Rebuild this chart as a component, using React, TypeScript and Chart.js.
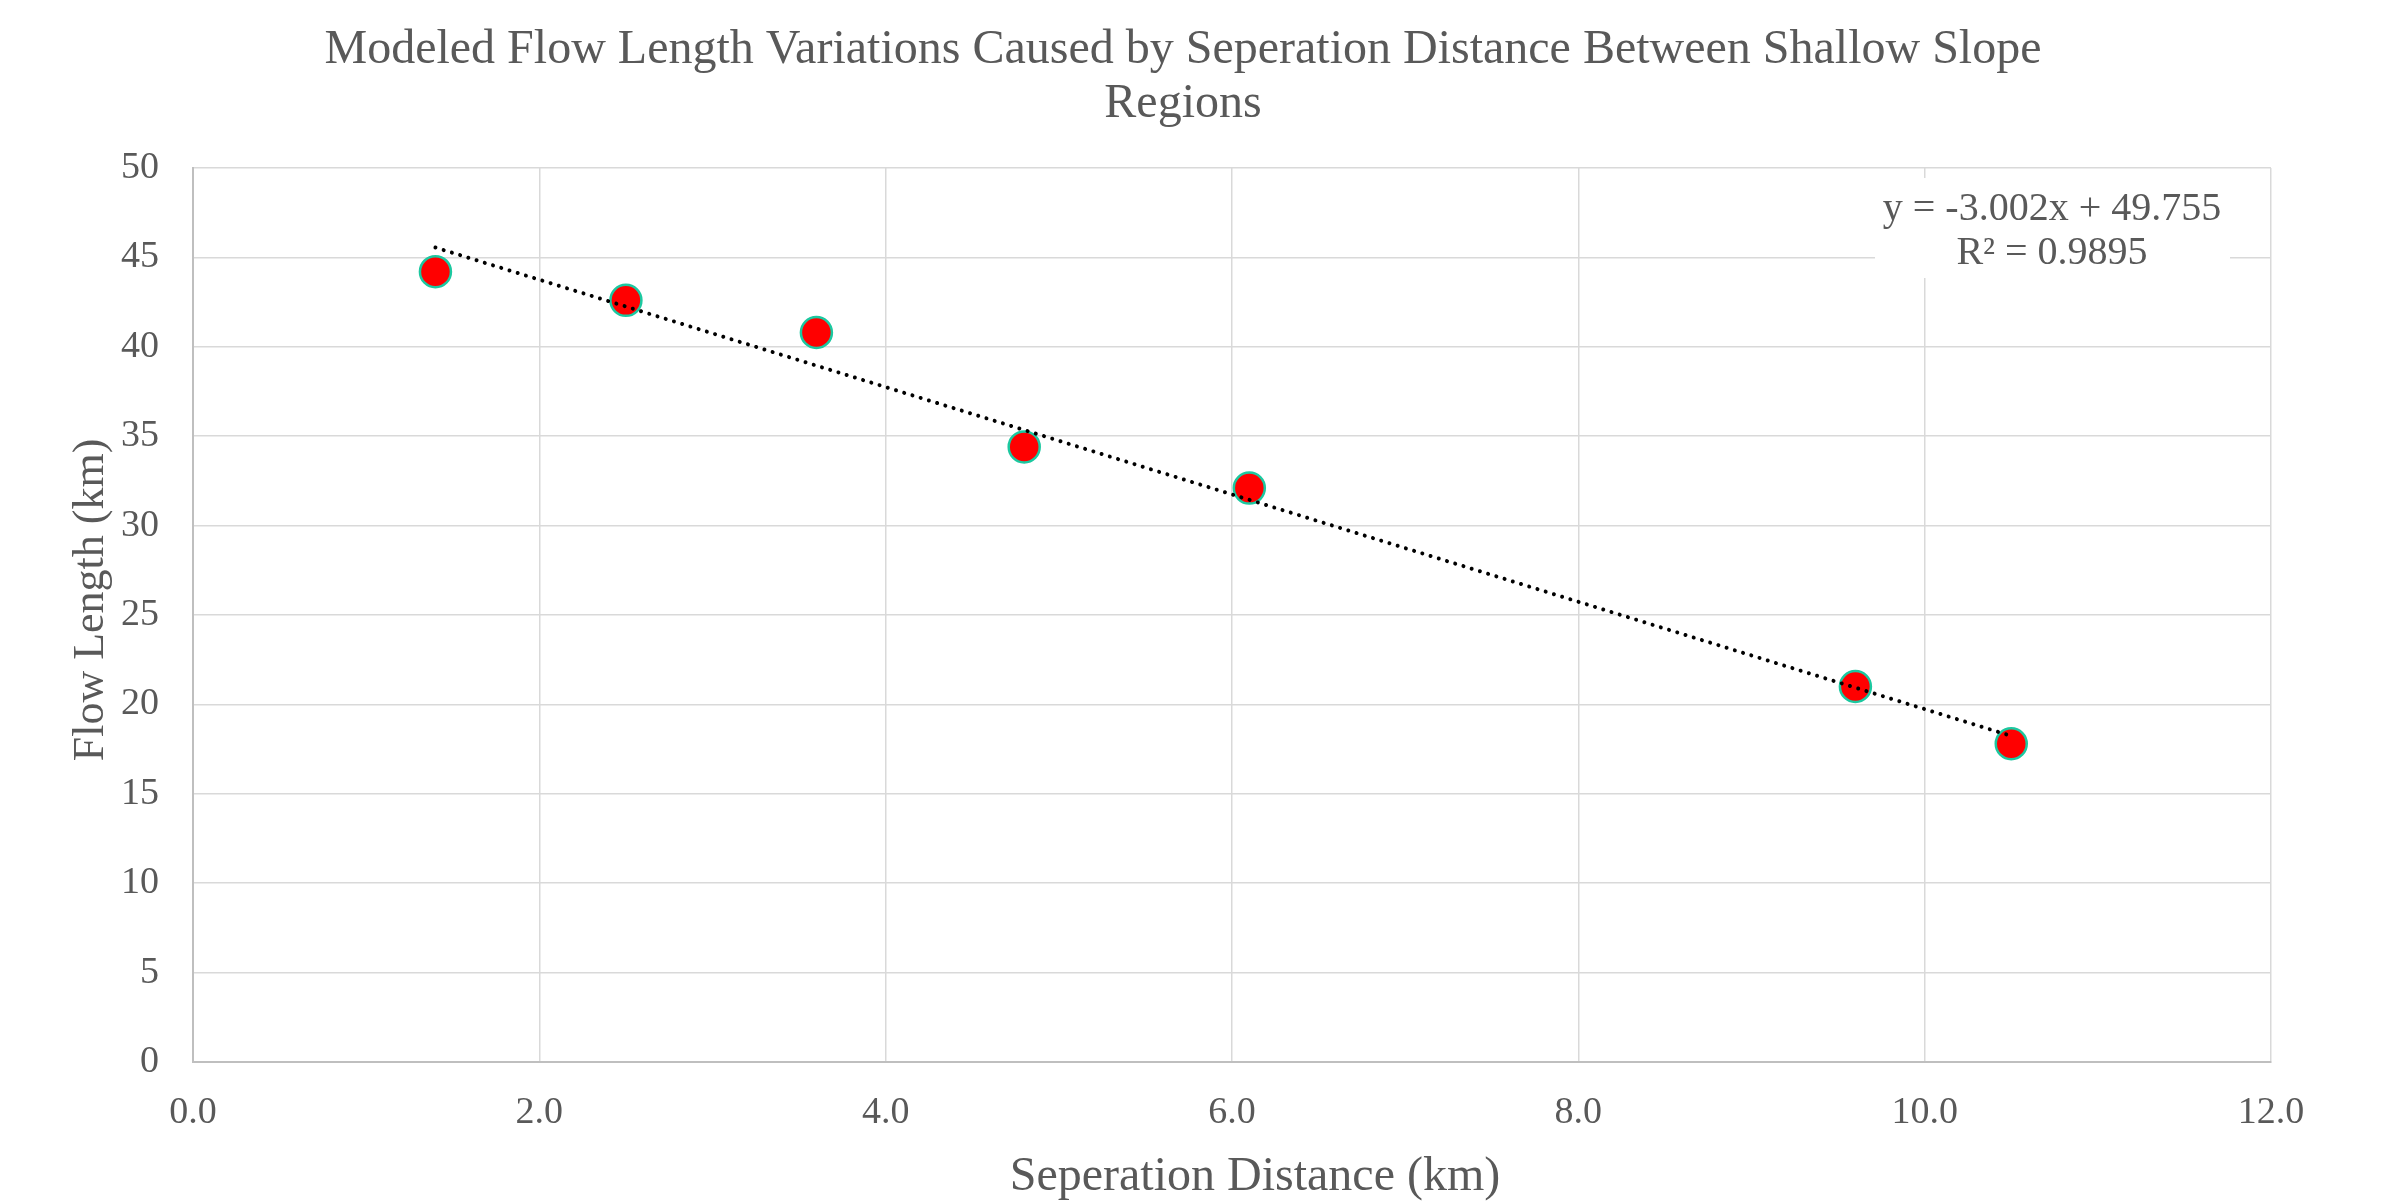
import React, { useEffect, useRef } from 'react';
import { Chart, registerables } from 'chart.js';

Chart.register(...registerables);

// ---- Data ----
const SEPARATION_KM = [1.4, 2.5, 3.6, 4.8, 6.1, 9.6, 10.5];
const FLOW_LENGTH_KM = [44.2, 42.6, 40.8, 34.4, 32.1, 21.0, 17.8];
const TREND_SLOPE = -3.002;
const TREND_INTERCEPT = 49.755;
const EQUATION_LINES = ['y = -3.002x + 49.755', 'R² = 0.9895'];
const TITLE_LINES = [
  'Modeled Flow Length Variations Caused by Seperation Distance Between Shallow Slope',
  'Regions',
];
const X_TITLE = 'Seperation Distance (km)';
const Y_TITLE = 'Flow Length (km)';
const X_MIN = 0;
const X_MAX = 12;
const X_STEP = 2;
const Y_MIN = 0;
const Y_MAX = 50;
const Y_STEP = 5;

const FONT = "'Liberation Serif', 'Times New Roman', serif";
const TEXT_COLOR = '#595959';

const textPlugin = {
  id: 'textLabels',
  afterDraw(chart: any) {
    const { ctx, chartArea } = chart;
    const right = chartArea.right;
    const top = chartArea.top;
    ctx.save();
    ctx.textAlign = 'center';
    ctx.textBaseline = 'middle';

    // chart title
    ctx.fillStyle = TEXT_COLOR;
    ctx.font = `48px ${FONT}`;
    ctx.fillText(TITLE_LINES[0], 1183, 50);
    ctx.fillText(TITLE_LINES[1], 1183, 104);

    // axis titles
    ctx.font = `48px ${FONT}`;
    ctx.fillText(X_TITLE, 1255, 1177);
    ctx.save();
    ctx.translate(91, 600);
    ctx.rotate(-Math.PI / 2);
    ctx.font = `44px ${FONT}`;
    ctx.fillText(Y_TITLE, 0, 0);
    ctx.restore();

    // trendline equation label
    ctx.fillStyle = '#FFFFFF';
    ctx.fillRect(right - 396, top + 10, 355, 100);
    ctx.fillStyle = TEXT_COLOR;
    ctx.font = `40px ${FONT}`;
    const cx = right - 219;
    ctx.fillText(EQUATION_LINES[0], cx, top + 41);
    ctx.fillText(EQUATION_LINES[1], cx, top + 85);
    ctx.restore();
  },
};

export default function App() {
  const canvasRef = useRef<HTMLCanvasElement | null>(null);

  useEffect(() => {
    document.body.style.margin = '0';
    const canvas = canvasRef.current;
    if (!canvas) return;

    const points = SEPARATION_KM.map((x, i) => ({ x, y: FLOW_LENGTH_KM[i] }));
    const xStart = Math.min(...SEPARATION_KM);
    const xEnd = Math.max(...SEPARATION_KM);
    const trend = [
      { x: xStart, y: TREND_SLOPE * xStart + TREND_INTERCEPT },
      { x: xEnd, y: TREND_SLOPE * xEnd + TREND_INTERCEPT },
    ];

    const chart = new Chart(canvas, {
      type: 'scatter',
      data: {
        datasets: [
          {
            type: 'line',
            label: 'Trend',
            data: trend,
            borderColor: '#000000',
            borderWidth: 4,
            borderDash: [0.01, 8.6],
            borderCapStyle: 'round',
            pointRadius: 0,
            fill: false,
            order: 0,
          } as any,
          {
            label: 'Flow Length',
            data: points,
            backgroundColor: '#FF0000',
            borderColor: '#1CC8A0',
            borderWidth: 2.5,
            pointRadius: 15.5,
            pointHoverRadius: 15.5,
            order: 1,
          },
        ],
      },
      options: {
        responsive: false,
        animation: false,
        layout: { padding: { left: 0, right: 117, top: 168, bottom: 0 } },
        plugins: {
          legend: { display: false },
          tooltip: { enabled: false },
          title: { display: false },
        },
        scales: {
          x: {
            type: 'linear',
            min: X_MIN,
            max: X_MAX,
            grid: { color: '#D9D9D9', lineWidth: 1.5, drawTicks: false },
            border: { color: '#BFBFBF', width: 2 },
            ticks: {
              stepSize: X_STEP,
              padding: 28,
              color: TEXT_COLOR,
              font: { family: FONT, size: 38 },
              callback: (v: any) => Number(v).toFixed(1),
            },
            title: { display: false },
            afterFit: (scale: any) => {
              scale.height = 142;
            },
          },
          y: {
            type: 'linear',
            min: Y_MIN,
            max: Y_MAX,
            grid: { color: '#D9D9D9', lineWidth: 1.5, drawTicks: false },
            border: { color: '#BFBFBF', width: 2 },
            ticks: {
              stepSize: Y_STEP,
              padding: 34,
              color: TEXT_COLOR,
              font: { family: FONT, size: 38 },
            },
            title: { display: false },
            afterFit: (scale: any) => {
              scale.width = 193;
            },
          },
        },
      },
      plugins: [textPlugin],
    });

    return () => chart.destroy();
  }, []);

  return (
    <canvas
      ref={canvasRef}
      width={2388}
      height={1204}
      style={{ display: 'block', width: 2388, height: 1204 }}
    />
  );
}
